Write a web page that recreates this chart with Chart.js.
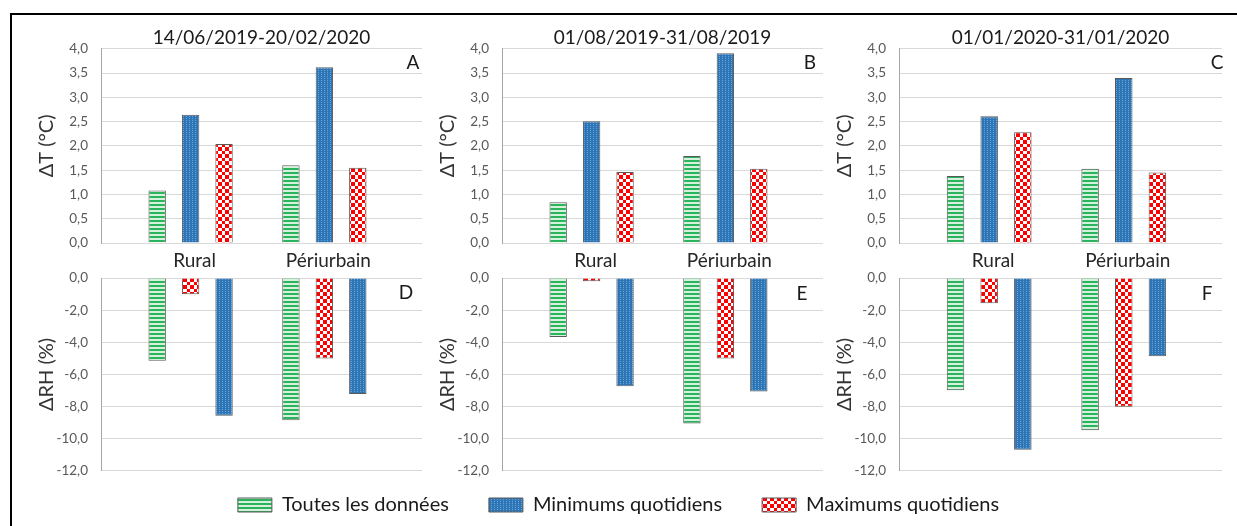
<!DOCTYPE html>
<html>
<head>
<meta charset="utf-8">
<script src="https://cdn.jsdelivr.net/npm/chart.js@4.4.1/dist/chart.umd.min.js"></script>
<style>
  html, body { margin: 0; padding: 0; background: #fff; }
  #page { position: relative; width: 1237px; height: 526px; overflow: hidden; }
  #frame { position: absolute; left: 10px; top: 13px; right: -5px; bottom: -5px; border-top: 2px solid #000; border-left: 2px solid #000; }
  canvas { position: absolute; }
</style>
</head>
<body>
<div id="page">
  <div id="frame"></div>
</div>
<script>
// données
const categories = ['Rural', 'Périurbain'];
const seriesNames = ['Toutes les données', 'Minimums quotidiens', 'Maximums quotidiens'];
const periods = ['14/06/2019-20/02/2020', '01/08/2019-31/08/2019', '01/01/2020-31/01/2020'];
const topLetters = ['A', 'B', 'C'];
const bottomLetters = ['D', 'E', 'F'];

// ΔT (°C), une paire [Rural, Périurbain] par période
const dT_toutes = [[1.08, 1.60], [0.84, 1.79], [1.38, 1.53]];
const dT_min    = [[2.64, 3.62], [2.51, 3.91], [2.61, 3.40]];
const dT_max    = [[2.04, 1.55], [1.46, 1.53], [2.28, 1.45]];

// ΔRH (%)
const dRH_toutes = [[-5.15, -8.84], [-3.66, -9.05], [-6.98, -9.47]];
const dRH_min    = [[-8.57, -7.22], [-6.73, -7.06], [-10.69, -4.86]];
const dRH_max    = [[-1.00, -5.01], [-0.19, -5.01], [-1.57, -8.00]];

const tAxis = { min: 0, max: 4, step: 0.5 };
const rhAxis = { min: -12, max: 0, step: 2 };

// mise en page (pixels)
const plotLeft = [101, 502, 899];
const plotRight = [422, 823, 1222];
const letterTop = [[-9, 14], [-13, 14], [-5, 14]];
const letterBottom = [[-16, 15], [-21, 16], [-15, 16]];

Chart.defaults.font.family = 'Lato, "Open Sans", sans-serif';

function makePattern(kind) {
  const c = document.createElement('canvas');
  const g = c.getContext('2d');
  if (kind === 'green') {
    c.width = 4; c.height = 4;
    g.fillStyle = '#d3f1db'; g.fillRect(0, 0, 4, 4);
    g.fillStyle = '#2cb35d'; g.fillRect(0, 0, 4, 2);
  } else if (kind === 'blue') {
    c.width = 3; c.height = 2;
    g.fillStyle = '#2e75b6'; g.fillRect(0, 0, 3, 2);
    g.fillStyle = '#6aa5da'; g.fillRect(2, 0, 1, 1);
  } else {
    c.width = 7; c.height = 7;
    g.fillStyle = '#ffffff'; g.fillRect(0, 0, 7, 7);
    g.fillStyle = '#ff0000'; g.fillRect(0, 0, 4, 4); g.fillRect(4, 4, 3, 3);
  }
  return g.createPattern(c, 'repeat');
}
const fills = { toutes: makePattern('green'), min: makePattern('blue'), max: makePattern('red') };

const fmt = v => v.toFixed(1).replace('.', ',');

const letterPlugin = {
  id: 'panelLetter',
  afterDraw(chart, args, opts) {
    const { ctx, chartArea } = chart;
    ctx.save();
    ctx.font = '19px Lato, "Open Sans", sans-serif';
    ctx.fillStyle = '#1a1a1a';
    ctx.textAlign = 'center';
    ctx.textBaseline = 'middle';
    ctx.fillText(opts.text, chartArea.right + opts.dx, chartArea.top + opts.dy);
    ctx.restore();
  }
};

function addCanvas(left, top, width, height) {
  const cv = document.createElement('canvas');
  cv.width = width; cv.height = height;
  cv.style.left = left + 'px'; cv.style.top = top + 'px';
  document.getElementById('page').appendChild(cv);
  return cv;
}

function ds(label, values, fill) {
  return {
    label: label,
    data: categories.map((c, i) => ({ x: i, y: values[i] })),
    backgroundColor: fill,
    borderColor: '#595959',
    borderWidth: 1,
    categoryPercentage: 0.75,
    barPercentage: 0.52
  };
}

function xScale(showLabels) {
  return {
    type: 'linear', min: -0.67, max: 1.73, offset: false,
    display: showLabels,
    grid: { display: false, drawTicks: false, offset: false },
    border: { display: false },
    ticks: {
      stepSize: 1, includeBounds: false, autoSkip: false, maxRotation: 0,
      padding: 6, labelOffset: 4, color: '#262626', font: { size: 19 },
      callback: v => categories[v] !== undefined ? categories[v] : ''
    },
    afterFit: s => { s.height = showLabels ? 32 : 0; }
  };
}

function yScale(ax, title) {
  return {
    min: ax.min, max: ax.max,
    ticks: { stepSize: ax.step, padding: 13, color: '#595959', font: { size: 13.5 }, callback: fmt },
    grid: { color: '#d9d9d9', drawTicks: false },
    border: { display: true, color: '#a6a6a6' },
    title: { display: true, text: title, color: '#333333', font: { size: 20 }, padding: { top: 34, bottom: 0 } },
    afterFit: s => { s.width = 100; }
  };
}

for (let p = 0; p < 3; p++) {
  const cLeft = plotLeft[p] - 100;
  const cWidth = plotRight[p] - cLeft + 3;

  // ΔT
  new Chart(addCanvas(cLeft, 0, cWidth, 275), {
    type: 'bar',
    data: {
      datasets: [
        ds(seriesNames[0], dT_toutes[p], fills.toutes),
        ds(seriesNames[1], dT_min[p], fills.min),
        ds(seriesNames[2], dT_max[p], fills.max)
      ]
    },
    options: {
      responsive: false,
      animation: false,
      layout: { padding: { top: 0, right: 3, bottom: 0, left: 0 } },
      plugins: {
        legend: { display: false },
        tooltip: { enabled: false },
        title: {
          display: true, text: periods[p], fullSize: false, color: '#1a1a1a',
          font: { size: 19, weight: 'normal' }, padding: { top: 26, bottom: 0 }
        },
        panelLetter: { text: topLetters[p], dx: letterTop[p][0], dy: letterTop[p][1] }
      },
      scales: { x: xScale(true), y: yScale(tAxis, 'ΔT (°C)') }
    },
    plugins: [letterPlugin]
  });

  // ΔRH (ordre des barres : toutes, max, min)
  new Chart(addCanvas(cLeft, 257, cWidth, 235), {
    type: 'bar',
    data: {
      datasets: [
        ds(seriesNames[0], dRH_toutes[p], fills.toutes),
        ds(seriesNames[2], dRH_max[p], fills.max),
        ds(seriesNames[1], dRH_min[p], fills.min)
      ]
    },
    options: {
      responsive: false,
      animation: false,
      layout: { padding: { top: 12, right: 3, bottom: 10, left: 0 } },
      plugins: {
        legend: { display: false },
        tooltip: { enabled: false },
        panelLetter: { text: bottomLetters[p], dx: letterBottom[p][0], dy: letterBottom[p][1] }
      },
      scales: { x: xScale(false), y: yScale(rhAxis, 'ΔRH (%)') }
    },
    plugins: [letterPlugin]
  });
}

// légende commune
new Chart(addCanvas(0, 455, 1237, 150), {
  type: 'bar',
  data: {
    labels: [],
    datasets: [
      { label: seriesNames[0], data: [], backgroundColor: fills.toutes, borderColor: '#595959', borderWidth: 1 },
      { label: seriesNames[1], data: [], backgroundColor: fills.min, borderColor: '#595959', borderWidth: 1 },
      { label: seriesNames[2], data: [], backgroundColor: fills.max, borderColor: '#595959', borderWidth: 1 }
    ]
  },
  options: {
    responsive: false,
    animation: false,
    layout: { padding: 0 },
    scales: { x: { display: false }, y: { display: false } },
    plugins: {
      tooltip: { enabled: false },
      legend: {
        display: true, position: 'top',
        labels: { boxWidth: 34, boxHeight: 14, padding: 40, color: '#1a1a1a', font: { size: 20 } }
      }
    }
  }
});
</script>
</body>
</html>
